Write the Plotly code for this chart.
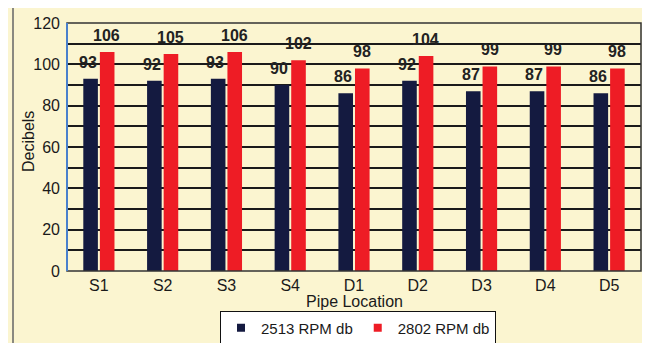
import plotly.graph_objects as go

categories = ["S1", "S2", "S3", "S4", "D1", "D2", "D3", "D4", "D5"]
rpm2513 = [93, 92, 93, 90, 86, 92, 87, 87, 86]
rpm2802 = [106, 105, 106, 102, 98, 104, 99, 99, 98]
series_names = ["2513 RPM db", "2802 RPM db"]
series_colors = ["#141a40", "#ee1c25"]

OFF = 8  # page body margin offsets the figure
W, H = 650, 343
# target page-pixel positions of the plot area
PL, PR, PT, PB = 67, 641, 23, 271
L, T = PL - OFF, PT - OFF
R = W - (PR - OFF)
B = H - (PB - OFF)
pw = PR - PL
ph = PB - PT

def px(x):
    return (x - PL) / pw

def py(y):
    return (PB - y) / ph

font = dict(family="Liberation Sans, Arial, sans-serif", color="#1a1a1a")
lblfont = dict(family="Liberation Sans, Arial, sans-serif", size=16, color="#222222", weight="bold")

fig = go.Figure()
for vals, name, col in zip([rpm2513, rpm2802], series_names, series_colors):
    fig.add_bar(x=categories, y=vals, name=name, marker_color=col,
                marker_line_width=0, showlegend=False)
# legend entries with small square markers
for name, col in zip(series_names, series_colors):
    fig.add_scatter(x=[None], y=[None], mode="markers", name=name,
                    marker=dict(symbol="square", size=8, color=col))

annotations = []
for vals, xs in zip([rpm2513, rpm2802], [-11, 8]):
    for c, v in zip(categories, vals):
        annotations.append(dict(x=c, y=v, xref="x", yref="y", text=str(v), showarrow=False,
                                xanchor="center", yanchor="bottom", xshift=xs, yshift=6,
                                font=lblfont))

cream = "#fbf5d0"
fig.update_layout(
    width=W, height=H,
    margin=dict(l=L, r=R, t=T, b=B, pad=0, autoexpand=False),
    paper_bgcolor=cream,
    plot_bgcolor="white",
    barmode="group", bargap=0.48, bargroupgap=0.12,
    font=dict(size=15, **font),
    showlegend=True,
    legend=dict(orientation="h", x=px(358), y=py(328), xanchor="center", yanchor="middle",
                bgcolor="white", bordercolor="#111111", borderwidth=1, itemwidth=30,
                font=dict(size=15, **font), traceorder="normal"),
    shapes=[
        dict(type="rect", xref="paper", yref="paper", x0=px(13), x1=px(645), y0=py(400), y1=py(7),
             fillcolor=cream, line=dict(color="#666666", width=1.5), layer="below"),
        dict(type="rect", xref="paper", yref="paper", x0=0, x1=1, y0=0, y1=1,
             fillcolor="rgba(0,0,0,0)", line=dict(color="#333333", width=1.5), layer="above"),
        dict(type="line", xref="paper", yref="paper", x0=0, x1=0, y0=0, y1=1,
             line=dict(color="#4a80cc", width=2), layer="above"),
    ],
    annotations=annotations + [
        dict(text="Pipe Location", xref="paper", yref="paper", x=px(354), y=py(301),
             xanchor="center", yanchor="middle", showarrow=False, font=dict(size=16, **font)),
        dict(text="Decibels", xref="paper", yref="paper", x=px(28), y=py(142),
             xanchor="center", yanchor="middle", showarrow=False, textangle=-90,
             font=dict(size=16, **font)),
    ],
)
fig.update_xaxes(showgrid=False, showline=False, automargin=False,
                 ticks="", tickfont=dict(size=16, **font), ticklabelstandoff=3)
fig.update_yaxes(range=[0, 120], showgrid=True, gridcolor="#1a1a1a", gridwidth=1.5,
                 tickvals=list(range(0, 121, 20)), ticks="", automargin=False,
                 tickfont=dict(size=16, **font), zeroline=False, showline=False,
                 ticklabelstandoff=6,
                 minor=dict(dtick=10, showgrid=True, gridcolor="#1a1a1a", gridwidth=1.5))

fig.write_html("out.html")
